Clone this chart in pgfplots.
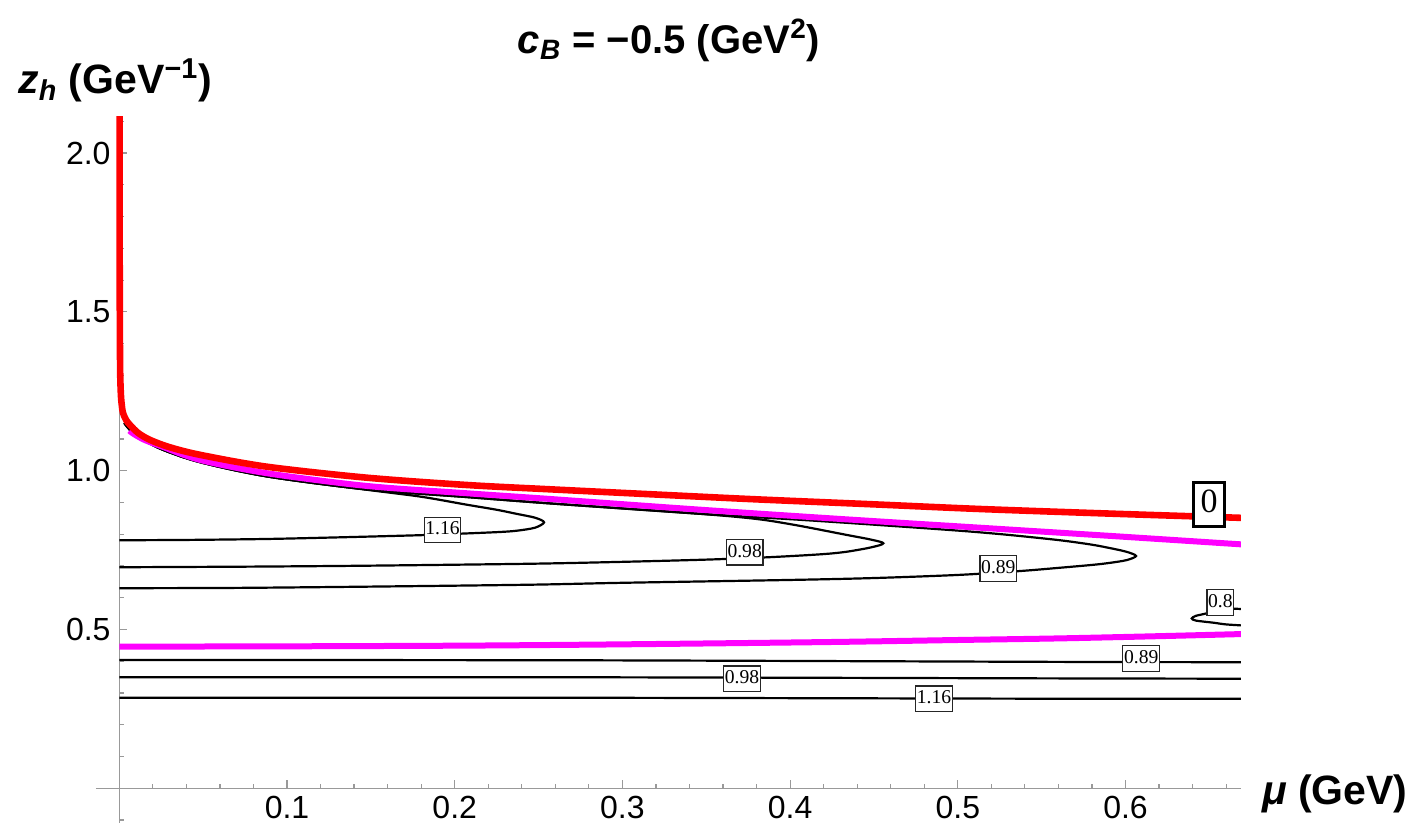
\documentclass[border=0pt]{standalone}
\usepackage{fontspec}
\setmainfont{Liberation Sans}
\newfontfamily\timesf{Liberation Serif}
\usepackage{pgfplots}
\pgfplotsset{compat=1.18}
\definecolor{mmag}{RGB}{255,0,255}
\definecolor{mred}{RGB}{255,0,0}
\begin{document}
\begin{tikzpicture}[
  clab/.style={draw=black!85, line width=0.55pt, fill=white, font=\timesf\fontsize{9.8}{11}\selectfont, inner xsep=0.6pt, inner ysep=1.5pt, text height=7.4pt, text depth=2.4pt},
  zlab/.style={draw=black, line width=1.3pt, fill=white, font=\timesf\fontsize{17}{19}\selectfont, inner xsep=3.4pt, inner ysep=2.4pt, text height=12.6pt, text depth=4.4pt}
]
\useasboundingbox (0,0) rectangle (712.5pt,417pt);
\begin{axis}[
  at={(59.65pt,22.85pt)}, anchor=origin,
  x=838.5pt, y=158.8pt,
  xmin=-0.0139, xmax=0.6688, ymin=-0.109, ymax=2.115,
  axis lines=middle,
  axis line style={-, black!40, line width=0.6pt},
  every inner x axis line/.append style={-},
  every inner y axis line/.append style={-},
  xtick={0.1,0.2,0.3,0.4,0.5,0.6},
  xticklabels={0.1,0.2,0.3,0.4,0.5,0.6},
  minor xtick={0.02,0.04,0.06,0.08,0.12,0.14,0.16,0.18,0.22,0.24,0.26,0.28,0.32,0.34,0.36,0.38,0.42,0.44,0.46,0.48,0.52,0.54,0.56,0.58,0.62,0.64,0.66},
  ytick={0.5,1.0,1.5,2.0},
  yticklabels={0.5,1.0,1.5,2.0},
  minor ytick={-0.1,0.1,0.2,0.3,0.4,0.6,0.7,0.8,0.9,1.1,1.2,1.3,1.4,1.6,1.7,1.8,1.9,2.1},
  tick align=inside,
  major tick length=4pt, minor tick length=2.2pt,
  tick style={black!40, line width=0.6pt},
  tick label style={font=\fontsize{16}{19}\selectfont, black},
  xticklabel style={anchor=north, inner sep=0pt, yshift=-3.8pt},
  yticklabel style={anchor=east, inner sep=0pt, xshift=-4.2pt},
  clip=true,
]
% level 1.16
\addplot[black, line width=1.1pt, smooth] coordinates {
(0.003,1.15)(0.0064,1.128)(0.012,1.105)(0.025,1.068)(0.048,1.027)(0.088,0.982)(0.1475,0.940)(0.18,0.918)(0.2071,0.893)(0.225,0.877)(0.237,0.864)(0.2479,0.852)(0.2533,0.8375)(0.2479,0.8205)(0.237,0.811)(0.227,0.807)(0.205,0.802)(0.18,0.797)(0.13,0.790)(0.0879,0.785)(0.04,0.782)(0,0.781)};
% level 0.98
\addplot[black, line width=1.1pt, smooth] coordinates {
(0.003,1.15)(0.0064,1.128)(0.012,1.105)(0.025,1.068)(0.048,1.027)(0.088,0.982)(0.1475,0.941)(0.2071,0.917)(0.2568,0.897)(0.3443,0.865)(0.38,0.848)(0.404,0.828)(0.434,0.7975)(0.446,0.7855)(0.4535,0.7765)(0.4556,0.7714)(0.4535,0.7655)(0.446,0.756)(0.434,0.745)(0.4238,0.739)(0.41,0.734)(0.385,0.727)(0.35,0.720)(0.30,0.713)(0.2449,0.707)(0.15,0.701)(0.08,0.698)(0,0.696)};
% level 0.89
\addplot[black, line width=1.1pt, smooth] coordinates {
(0.003,1.15)(0.0064,1.128)(0.012,1.105)(0.025,1.068)(0.048,1.027)(0.088,0.982)(0.1475,0.941)(0.2071,0.917)(0.2568,0.897)(0.3443,0.865)(0.404,0.846)(0.45,0.830)(0.501,0.811)(0.53,0.798)(0.5609,0.781)(0.58,0.767)(0.591,0.756)(0.6007,0.7445)(0.6063,0.7315)(0.6007,0.7185)(0.591,0.710)(0.581,0.7038)(0.56,0.694)(0.537,0.684)(0.501,0.672)(0.45,0.662)(0.40,0.656)(0.30,0.647)(0.2449,0.641)(0.15,0.635)(0.07,0.631)(0,0.630)};
% level 0.8
\addplot[black, line width=1.1pt, smooth] coordinates {
(0.672,0.5636)(0.66,0.566)(0.652,0.560)(0.6484,0.551)(0.642,0.543)(0.6395,0.535)(0.642,0.528)(0.6524,0.5214)(0.66,0.516)(0.672,0.512)};
% lower branches
\addplot[black, line width=1.1pt, smooth] coordinates {(0,0.404)(0.275,0.403)(0.561,0.398)(0.672,0.397)};
\addplot[black, line width=1.1pt, smooth] coordinates {(0,0.3495)(0.275,0.3495)(0.561,0.346)(0.672,0.345)};
\addplot[black, line width=1.1pt, smooth] coordinates {(0,0.285)(0.275,0.285)(0.561,0.282)(0.672,0.282)};
% magenta curves
\addplot[mmag, line width=3pt, smooth] coordinates {
(0.006,1.126)(0.0085,1.116)(0.015,1.097)(0.025,1.077)(0.048,1.034)(0.088,0.992)(0.1475,0.952)(0.2071,0.929)(0.2568,0.911)(0.3443,0.878)(0.43,0.848)(0.5132,0.8205)(0.59,0.795)(0.672,0.767)};
\addplot[mmag, line width=3pt, smooth] coordinates {
(0,0.446)(0.1,0.447)(0.2,0.449)(0.275,0.452)(0.35,0.456)(0.43,0.461)(0.501,0.467)(0.561,0.472)(0.62,0.479)(0.672,0.486)};
% red curve (level 0)
\addplot[mred, line width=3.3pt, smooth] coordinates {
(0.0002,2.13)(0.0002,1.8)(0.0003,1.5)(0.0005,1.32)(0.0009,1.245)(0.0014,1.21)(0.0022,1.182)(0.0040,1.16)(0.0064,1.144)(0.0112,1.119)(0.0183,1.097)(0.030,1.074)(0.0481,1.050)(0.0879,1.0126)(0.1475,0.978)(0.2071,0.955)(0.2568,0.9414)(0.32,0.925)(0.379,0.910)(0.45,0.894)(0.5132,0.8794)(0.59,0.865)(0.672,0.851)};
% contour labels
\node[clab] at (axis cs:0.1927,0.8133) {1.16};
\node[clab] at (axis cs:0.3729,0.7434) {0.98};
\node[clab] at (axis cs:0.5242,0.6927) {0.89};
\node[clab] at (axis cs:0.6566,0.585) {0.8};
\node[clab] at (axis cs:0.6094,0.4093) {0.89};
\node[clab] at (axis cs:0.3713,0.3448) {0.98};
\node[clab] at (axis cs:0.4858,0.2818) {1.16};
\node[zlab] at (axis cs:0.6498,0.8936) {0};
\end{axis}
\node[anchor=base, font=\bfseries\fontsize{20}{23}\selectfont] at (334.5pt,390.3pt) {\textit{c}\textsubscript{\textit{B}} = −0.5 (GeV\textsuperscript{2})};
\node[anchor=base west, inner sep=0pt, font=\bfseries\fontsize{20.5}{23}\selectfont] at (9pt,370pt) {\textit{z}\textsubscript{\textit{h}} (GeV\textsuperscript{−1})};
\node[anchor=base west, inner sep=0pt, font=\bfseries\fontsize{20.5}{23}\selectfont] at (630.85pt,14.5pt) {\textit{μ} (GeV)};
\end{tikzpicture}
\end{document}
